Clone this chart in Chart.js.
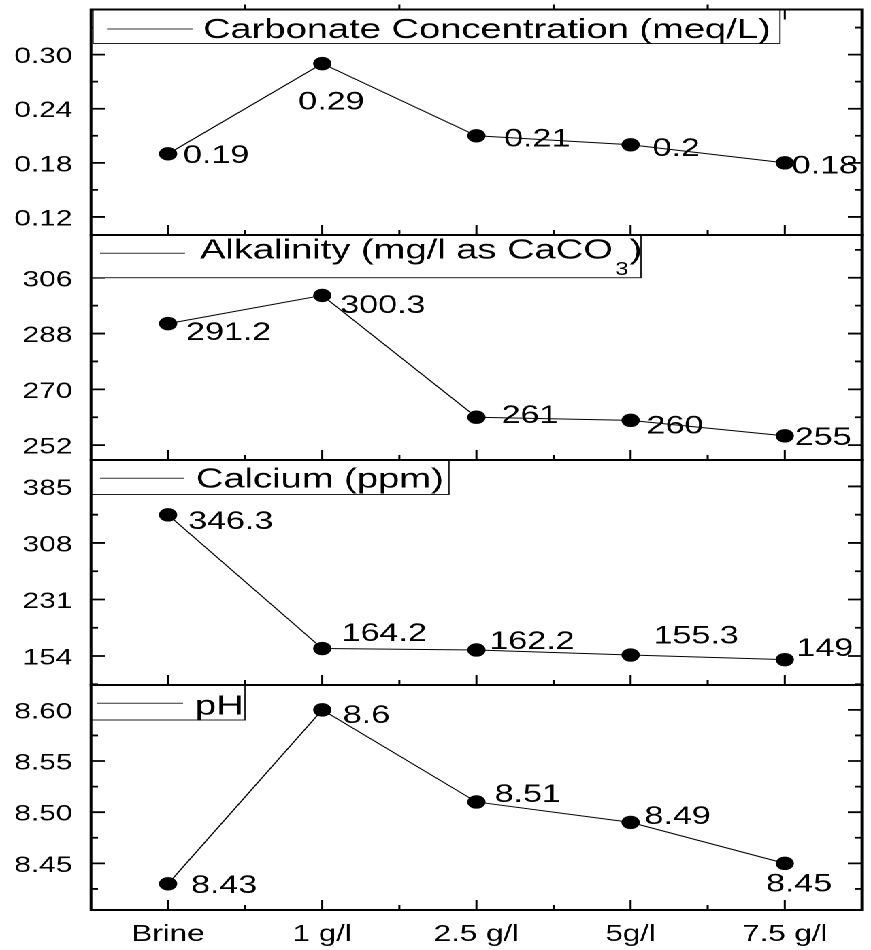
<!DOCTYPE html>
<html>
<head>
<meta charset="utf-8">
<script src="https://cdn.jsdelivr.net/npm/chart.js@4"></script>
<style>
  html, body { margin: 0; padding: 0; background: #fff; overflow: hidden; }
  #wrap { position: absolute; left: 0; top: 0; width: 640px; height: 950px; transform-origin: 0 0; }
  #wrap canvas { position: absolute; left: 0; top: 0; }
</style>
</head>
<body>
<div id="wrap">
  <canvas id="c1" width="640" height="950"></canvas>
  <canvas id="c2" width="640" height="950"></canvas>
  <canvas id="c3" width="640" height="950"></canvas>
  <canvas id="c4" width="640" height="950"></canvas>
</div>
<script>
const doses = ['Brine', '1 g/l', '2.5 g/l', '5g/l', '7.5 g/l'];

const carbonate = [0.19, 0.29, 0.21, 0.2, 0.18];
const alkalinity = [291.2, 300.3, 261, 260, 255];
const calcium = [346.3, 164.2, 162.2, 155.3, 149];
const ph = [8.43, 8.6, 8.51, 8.49, 8.45];

const carbonateTicks = ['0.12', '0.18', '0.24', '0.30'];
const alkalinityTicks = ['252', '270', '288', '306'];
const calciumTicks = ['154', '231', '308', '385'];
const phTicks = ['8.45', '8.50', '8.55', '8.60'];

// the original figure is stretched sideways, so draw narrow and scale the whole thing
const S = 871 / 640;
document.getElementById('wrap').style.transform = `scaleX(${S})`;
const FONT = '"Liberation Sans", Arial, Helvetica, sans-serif';

// box / label positions are in screen px of the final picture
const panels = [
  { id: 'c1', title: 'Carbonate Concentration (meq/L)', values: carbonate, ticks: carbonateTicks,
    min: 0.10, max: 0.35, top: 9.5, bottom: 235, topTicks: true,
    box: { x0: 93, x1: 780, h: 34, line: [107, 193, 29], text: [203, 38] },
    offs: [[15, 0], [-24, 37], [27.7, 1.5], [22, 2], [7, 1.5]] },
  { id: 'c2', title: 'Alkalinity (mg/l as CaCO', sub: '3', after: ')', values: alkalinity, ticks: alkalinityTicks,
    min: 247.2, max: 319.8, top: 235, bottom: 460,
    box: { x0: 91, x1: 641, h: 42.7, line: [100, 185, 253.3], text: [200, 258.3] },
    offs: [[18, 7.5], [18, 8.6], [25, -3], [16, 4], [10, 0]] },
  { id: 'c3', title: 'Calcium (ppm)', values: calcium, ticks: calciumTicks,
    min: 114.5, max: 421, top: 460, bottom: 685,
    box: { x0: 91, x1: 449, h: 34.5, line: [100, 184, 478.3], text: [196, 487.7] },
    offs: [[20, 5], [19.5, -16.5], [13, -10], [23, -20.5], [11.6, -12.7]] },
  { id: 'c4', title: 'pH', values: ph, ticks: phTicks,
    min: 8.4044, max: 8.6243, top: 685, bottom: 910, xLabels: true,
    box: { x0: 91, x1: 245, h: 35, line: [97, 183, 703.3], text: [195, 714.3] },
    offs: [[23, 0], [20.5, 4], [18.3, -9], [14, -7.5], [-18.7, 19]] }
];

function decor(p) {
  return {
    id: 'decor',
    afterDraw(chart) {
      const ctx = chart.ctx;
      const a = chart.chartArea;
      const xs = chart.scales.x, ys = chart.scales.y;
      ctx.save();
      ctx.strokeStyle = '#000';
      ctx.fillStyle = '#000';

      // y ticks on both sides, pointing in
      const major = p.ticks.map(Number);
      const half = (major[1] - major[0]) / 2;
      const minor = [major[0] - half, ...major.map(v => v + half)].filter(v => v >= ys.min && v <= ys.max);
      ctx.lineWidth = 1.8;
      ctx.beginPath();
      major.forEach(v => {
        const y = ys.getPixelForValue(v);
        ctx.moveTo(a.left, y); ctx.lineTo(a.left + 14 / S, y);
        ctx.moveTo(a.right, y); ctx.lineTo(a.right - 14 / S, y);
      });
      minor.forEach(v => {
        const y = ys.getPixelForValue(v);
        ctx.moveTo(a.left, y); ctx.lineTo(a.left + 7 / S, y);
        ctx.moveTo(a.right, y); ctx.lineTo(a.right - 7 / S, y);
      });
      ctx.stroke();

      // x ticks
      ctx.lineWidth = 1.5;
      ctx.beginPath();
      doses.forEach((d, i) => {
        const x = xs.getPixelForValue(i);
        ctx.moveTo(x, a.bottom); ctx.lineTo(x, a.bottom - 10);
        if (p.topTicks) { ctx.moveTo(x, a.top); ctx.lineTo(x, a.top + 10); }
        if (i < doses.length - 1) {
          const xm = (x + xs.getPixelForValue(i + 1)) / 2;
          ctx.moveTo(xm, a.bottom); ctx.lineTo(xm, a.bottom - 5);
          if (p.topTicks) { ctx.moveTo(xm, a.top); ctx.lineTo(xm, a.top - 5); }
        }
      });
      ctx.stroke();

      // legend box
      const b = p.box;
      ctx.fillStyle = '#fff';
      ctx.fillRect(b.x0 / S, a.top, (b.x1 - b.x0) / S, b.h);
      ctx.strokeStyle = '#222';
      ctx.lineWidth = 1;
      ctx.strokeRect(b.x0 / S, a.top, (b.x1 - b.x0) / S, b.h);
      ctx.strokeStyle = '#333';
      ctx.beginPath();
      ctx.moveTo(b.line[0] / S, b.line[2]);
      ctx.lineTo(b.line[1] / S, b.line[2]);
      ctx.stroke();

      ctx.fillStyle = '#000';
      ctx.textAlign = 'left';
      ctx.textBaseline = 'alphabetic';
      ctx.font = '28px ' + FONT;
      const tx = b.text[0] / S;
      ctx.fillText(p.title, tx, b.text[1]);
      if (p.sub) {
        const w = ctx.measureText(p.title).width;
        ctx.font = '18px ' + FONT;
        const sx = tx + w + 2 / S;
        ctx.fillText(p.sub, sx, b.text[1] + 16.5);
        const sw = ctx.measureText(p.sub).width;
        ctx.font = '28px ' + FONT;
        ctx.fillText(p.after, sx + sw + 1 / S, b.text[1]);
      }

      // frame
      ctx.strokeStyle = '#000';
      ctx.lineWidth = 2;
      ctx.strokeRect(a.left, a.top, a.right - a.left, a.bottom - a.top);

      // tick labels
      ctx.font = '22px ' + FONT;
      ctx.textAlign = 'right';
      p.ticks.forEach(t => {
        ctx.fillText(t, 72.5 / S, ys.getPixelForValue(Number(t)) + 8.5);
      });
      if (p.xLabels) {
        ctx.font = '23px ' + FONT;
        ctx.textAlign = 'center';
        doses.forEach((d, i) => ctx.fillText(d, xs.getPixelForValue(i), 941));
      }

      // value labels next to the points
      ctx.font = '25px ' + FONT;
      ctx.textAlign = 'left';
      const meta = chart.getDatasetMeta(0);
      meta.data.forEach((pt, i) => {
        const o = p.offs[i];
        ctx.fillText(String(p.values[i]), pt.x + o[0] / S, pt.y + o[1] + 9);
      });
      ctx.restore();
    }
  };
}

panels.forEach(p => {
  new Chart(document.getElementById(p.id), {
    type: 'line',
    data: {
      labels: doses,
      datasets: [{
        data: p.values,
        borderColor: '#000',
        borderWidth: 1,
        pointRadius: 6.7,
        pointHoverRadius: 6.7,
        pointBackgroundColor: '#000',
        pointBorderWidth: 0,
        tension: 0,
        clip: false
      }]
    },
    options: {
      responsive: false,
      animation: false,
      devicePixelRatio: 2,
      events: [],
      layout: { padding: { left: 91 / S, right: 640 - 867 / S, top: p.top, bottom: 950 - p.bottom } },
      scales: {
        x: { type: 'category', offset: true, display: false },
        y: { display: false, min: p.min, max: p.max }
      },
      plugins: { legend: { display: false }, tooltip: { enabled: false } }
    },
    plugins: [decor(p)]
  });
});
</script>
</body>
</html>
